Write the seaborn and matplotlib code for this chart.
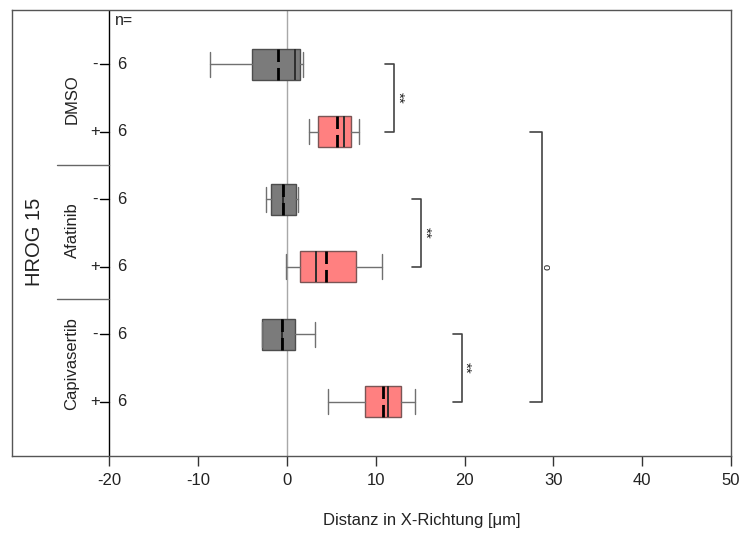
import matplotlib
matplotlib.use("Agg")
import matplotlib.pyplot as plt
import seaborn as sns

# Migration distance in x direction, HROG 15 cells, six conditions
groups = ["DMSO", "DMSO", "Afatinib", "Afatinib", "Capivasertib", "Capivasertib"]
treatment = ["-", "+", "-", "+", "-", "+"]
n_cells = [6, 6, 6, 6, 6, 6]
whisker_low = [-8.66, 2.52, -2.39, -0.1, -2.8, 4.59]
q1 = [-3.9, 3.5, -1.82, 1.48, -2.8, 8.83]
median = [0.91, 6.46, -0.41, 3.24, -0.52, 11.42]
mean = [-1.0, 5.68, -0.41, 4.37, -0.52, 10.79]
q3 = [1.47, 7.25, 1.02, 7.75, 0.95, 12.82]
whisker_high = [1.85, 8.12, 1.28, 10.68, 3.2, 14.46]

group_names = ["DMSO", "Afatinib", "Capivasertib"]
group_centers = [0.52, 2.46, 4.43]
cell_line = "HROG 15"

# significance brackets: (first row, last row, x of bracket, label)
brackets = [(0, 1, 12.05, "**"), (2, 3, 15.1, "**"), (4, 5, 19.7, "**"), (1, 5, 28.7, "o")]

x_ticks = [-20, -10, 0, 10, 20, 30, 40, 50]
x_label = "Distanz in X-Richtung [\u03bcm]"

sns.set_theme(style="white")
plt.rcParams["font.family"] = ["Liberation Sans", "DejaVu Sans"]
plt.rcParams["lines.scale_dashes"] = False

fig = plt.figure(figsize=(7.41, 5.33), dpi=100)
ax = fig.add_axes([12 / 741, 77 / 533, 719 / 741, 446 / 533])

stats = []
for i in range(len(groups)):
    stats.append(dict(whislo=whisker_low[i], q1=q1[i], med=median[i], mean=mean[i],
                      q3=q3[i], whishi=whisker_high[i], fliers=[], label=treatment[i]))

positions = list(range(len(groups)))
art = ax.bxp(stats, positions=positions, widths=0.46, capwidths=0.37,
             orientation="horizontal", patch_artist=True, showmeans=True, meanline=True,
             showfliers=False,
             whiskerprops=dict(color="#707070", lw=1.0),
             capprops=dict(color="#707070", lw=1.0),
             medianprops=dict(color="#2e2e2e", lw=1.4),
             meanprops=dict(color="black", lw=2.0, linestyle=(0, (9.0, 4.3))),
             boxprops=dict(lw=1.0))

face = {"-": "#7b7b7b", "+": "#ff8080"}
edge = {"-": "#4d4d4d", "+": "#7a5555"}
for patch, t in zip(art["boxes"], treatment):
    patch.set_facecolor(face[t])
    patch.set_edgecolor(edge[t])

ax.set_xlim(-30.96, 50)
ax.set_ylim(5.8, -0.8)
ax.set_xticks(x_ticks)
ax.set_xticklabels([str(v) for v in x_ticks], fontsize=12, color="#222222")
ax.set_yticks([])
ax.tick_params(axis="x", direction="out", length=7, width=1, color="#333333", pad=5, bottom=True)
for s in ax.spines.values():
    s.set_color("#555555")
    s.set_linewidth(1.0)

# zero reference and inner category axis
ax.axvline(0, color="#a8a8a8", lw=1, zorder=0)
ax.axvline(-20, color="black", lw=1, zorder=1)

for y, t, n in zip(positions, treatment, n_cells):
    ax.plot([-21.0, -20], [y, y], color="black", lw=1)
    ax.text(-21.65, y, t, ha="center", va="center", fontsize=12, color="#222222")
    ax.text(-18.6, y, str(n), ha="center", va="center", fontsize=12, color="#222222")
ax.text(-19.35, -0.65, "n=", ha="left", va="center", fontsize=11.5, color="#222222")

for name, yc in zip(group_names, group_centers):
    ax.text(-24.2, yc, name, rotation=90, ha="center", va="center", fontsize=12, color="#222222")
for ysep in [1.49, 3.48]:
    ax.plot([-25.9, -20], [ysep, ysep], color="#666666", lw=1)
ax.text(-28.4, 2.63, cell_line, rotation=90, ha="center", va="center", fontsize=14.5, color="#222222")

for y0, y1, xb, lab in brackets:
    arm = 1.0 if lab == "**" else 1.3
    ax.plot([xb - arm, xb, xb, xb - arm], [y0, y0, y1, y1], color="#444444", lw=1.2)
    if lab == "**":
        ax.text(xb + 0.4, (y0 + y1) / 2, lab, rotation=270, ha="center", va="center",
                fontsize=11, color="#222222")
    else:
        ax.text(xb + 0.65, (y0 + y1) / 2, lab, rotation=90, ha="center", va="center",
                fontsize=8, color="#222222")

ax.set_xlabel(x_label, fontsize=12, color="#222222")
ax.xaxis.set_label_coords((422 - 12) / 719, -(520 - 456) / 446)
ax.xaxis.label.set_verticalalignment("center")

fig.savefig("out.png", dpi=100)
